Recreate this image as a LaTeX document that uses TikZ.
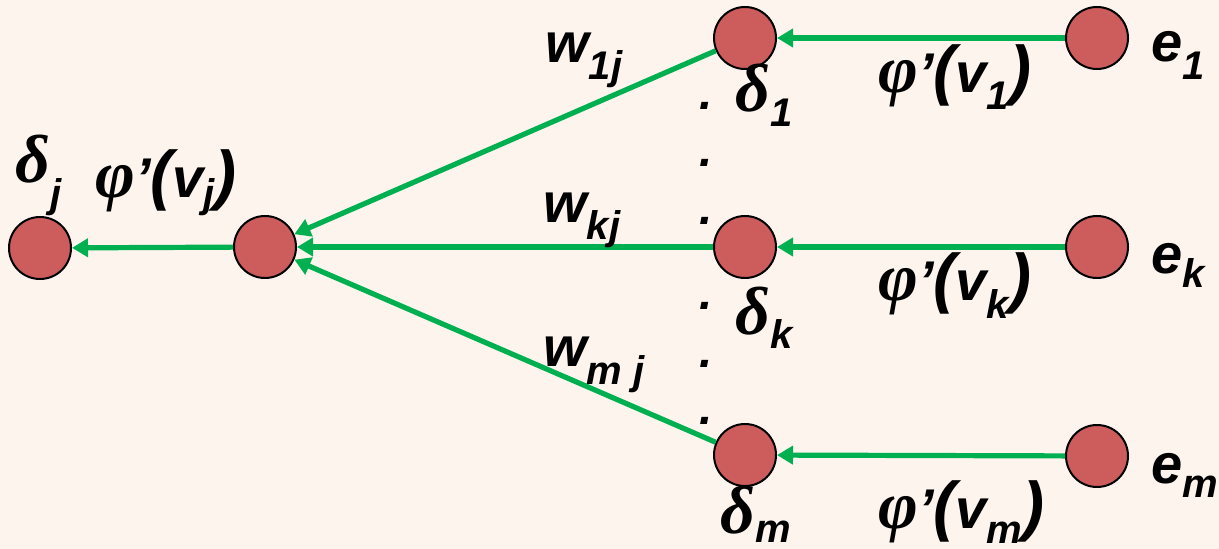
\documentclass[tikz,border=0pt]{standalone}
\usepackage{fontspec}
\setmainfont{Liberation Sans}
\newfontfamily\grk{Liberation Serif}
\usetikzlibrary{arrows.meta}
\definecolor{bgc}{HTML}{FEF4EE}
\definecolor{nodered}{HTML}{CD5C5C}
\definecolor{arrgreen}{HTML}{00B050}
\newcommand\mysub[2]{\raisebox{-#1pt}{\fontsize{20}{20}\selectfont #2}}
\newcommand\gk[1]{{\grk\fontsize{34}{34}\selectfont #1}}
\newcommand\bigp[1]{{\fontsize{33}{33}\selectfont #1}}
\begin{document}
\begin{tikzpicture}[x=0.5pt,y=-0.5pt,
 neuron/.style={circle,draw=black,line width=1pt,fill=nodered,minimum size=31pt,inner sep=0pt},
 conn/.style={draw=arrgreen,line width=2.6pt,-{Triangle[length=8pt,width=9pt]}},
 lbl/.style={anchor=base west,inner sep=0pt,font=\fontsize{28}{28}\selectfont\bfseries\itshape},
 plbl/.style={anchor=base west,inner sep=0pt,font=\fontsize{28}{28}\selectfont\bfseries\itshape},
 dotlbl/.style={anchor=base,inner sep=0pt,font=\fontsize{24}{24}\selectfont\bfseries\itshape}]
\fill[bgc] (0,0) rectangle (1219,549);
\useasboundingbox (0,0) rectangle (1219,549);
% neurons
\node[neuron] (dj) at (40,248) {};
\node[neuron] (mid) at (265,247) {};
\node[neuron] (d1) at (745,38) {};
\node[neuron] (dk) at (745,247) {};
\node[neuron] (dm) at (745,455) {};
\node[neuron] (e1) at (1097,38) {};
\node[neuron] (ek) at (1097,247) {};
\node[neuron] (em) at (1097,456) {};
% connectors
\draw[conn] (e1) -- (d1);
\draw[conn] (ek) -- (dk);
\draw[conn] (em) -- (dm);
\draw[conn] (d1) -- (mid);
\draw[conn] (dk) -- (mid);
\draw[conn] (dm) -- (mid);
\draw[conn] (mid) -- (dj);
% labels
\node[lbl] (ldj) at (15,183) {\gk{δ}\mysub{12.5}{j}};
\node[plbl] (lphij) at (95,198) {\gk{φ}’\bigp{(}v\mysub{5}{j}\bigp{)}};
\node[lbl] (lw1) at (545,63) {w\mysub{8.5}{1j}};
\node[lbl] (lwk) at (543,223) {w\mysub{8.5}{kj}};
\node[lbl] (lwm) at (543,367) {w\mysub{9}{m j}};
\node[lbl] (ld1) at (735,112) {\gk{δ}\mysub{7.5}{1}};
\node[lbl] (ldk) at (735,335) {\gk{δ}\mysub{7}{k}};
\node[lbl] (ldm) at (720,533) {\gk{δ}\mysub{4.5}{m}};
\node[plbl] (lphi1) at (878,93) {\gk{φ}’\bigp{(}v\mysub{8.5}{1}\bigp{)}};
\node[plbl] (lphik) at (878,301) {\gk{φ}’\bigp{(}v\mysub{9}{k}\bigp{)}};
\node[plbl] (lphim) at (878,528) {\gk{φ}’\bigp{(}v\mysub{7.5}{m}\bigp{)}};
\node[lbl] (le1) at (1151,62) {e\mysub{9}{1}};
\node[lbl] (lek) at (1151,274) {e\mysub{7}{k}};
\node[lbl] (lem) at (1151,483) {e\mysub{7}{m}};
% dots
\node[dotlbl] (p1) at (706,110) {.};
\node[dotlbl] (p2) at (706,167) {.};
\node[dotlbl] (p3) at (706,225) {.};
\node[dotlbl] (p4) at (706,310) {.};
\node[dotlbl] (p5) at (706,368) {.};
\node[dotlbl] (p6) at (706,425) {.};
\end{tikzpicture}
\end{document}
